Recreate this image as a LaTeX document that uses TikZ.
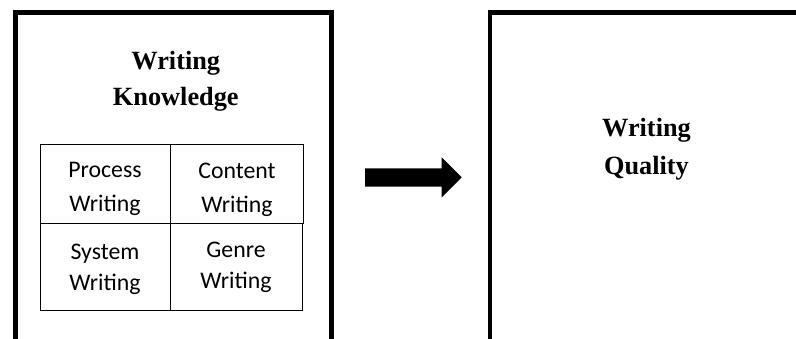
\documentclass[tikz,border=0pt]{standalone}
\usepackage{fontspec}
\setmainfont{Liberation Serif}
\newfontfamily\cellfont{Carlito}
\begin{document}
\begin{tikzpicture}[x=1pt,y=-1pt,
  frame/.style={line width=4.6pt, line join=miter},
  gridline/.style={line width=1.3pt},
  titletext/.style={font=\bfseries\fontsize{26.3}{30}\selectfont, anchor=base, inner sep=0pt},
  celltext/.style={font=\cellfont\fontsize{23.8}{28}\selectfont, anchor=base, inner sep=0pt},
  cellbox/.style={draw, gridline, minimum width=130.5pt, minimum height=78.7pt, inner sep=0pt, anchor=north west}]
\useasboundingbox (0,0) rectangle (796,338);
\clip (0,0) rectangle (796,338);
\fill[white] (0,0) rectangle (796,338);
% outer frames (open at the bottom / right)
\coordinate (lbl) at (15.3,345);
\coordinate (ltl) at (15.3,12.5);
\coordinate (ltr) at (331.5,12.5);
\coordinate (lbr) at (331.5,345);
\draw[frame] (lbl) -- (ltl) -- (ltr) -- (lbr);
\coordinate (rbl) at (490,345);
\coordinate (rtl) at (490,12.5);
\coordinate (rtr) at (805,12.5);
\draw[frame] (rbl) -- (rtl) -- (rtr);
% titles
\node[titletext] (t1) at (175.8,69.3) {Writing};
\node[titletext] (t2) at (175.8,105) {Knowledge};
\node[titletext] (q1) at (646.5,136.7) {Writing};
\node[titletext] (q2) at (646.5,174) {Quality};
% grid cells
\node[cellbox] (c11) at (39.5,144) {};
\node[cellbox, minimum width=132.5pt] (c12) at (170,144) {};
\node[cellbox, minimum height=87.3pt] (c21) at (39.5,222.7) {};
\node[cellbox, minimum width=131.7pt, minimum height=87.3pt] (c22) at (170,222.7) {};
% cell texts
\node[celltext] (p1) at (105,177.6) {Process};
\node[celltext] (p2) at (105,211.7) {Writing};
\node[celltext] (k1) at (237,178.6) {Content};
\node[celltext] (k2) at (237,212.3) {Writing};
\node[celltext] (s1) at (105,259.5) {System};
\node[celltext] (s2) at (105,290) {Writing};
\node[celltext] (g1) at (236,257.7) {Genre};
\node[celltext] (g2) at (236,288.3) {Writing};
% block arrow
\coordinate (a1) at (365,168.3);
\coordinate (a2) at (441.7,168.3);
\coordinate (a3) at (441.7,157.3);
\coordinate (a4) at (461.7,177.3);
\coordinate (a5) at (441.7,197.3);
\coordinate (a6) at (441.7,186.7);
\coordinate (a7) at (365,186.7);
\fill (a1) -- (a2) -- (a3) -- (a4) -- (a5) -- (a6) -- (a7) -- cycle;
\end{tikzpicture}
\end{document}
